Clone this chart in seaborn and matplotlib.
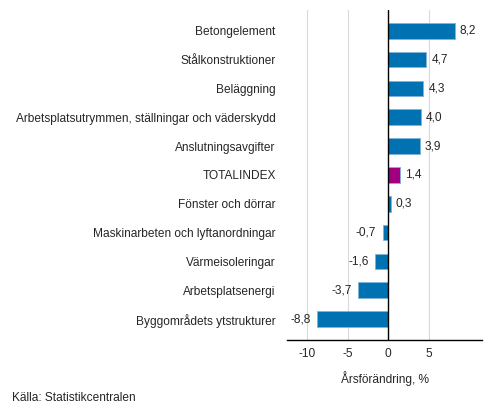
import numpy as np
import pandas as pd
import matplotlib
matplotlib.use("Agg")
import matplotlib.pyplot as plt
import seaborn as sns

categories = ["Betongelement", "Stålkonstruktioner", "Beläggning",
              "Arbetsplatsutrymmen, ställningar och väderskydd", "Anslutningsavgifter",
              "TOTALINDEX", "Fönster och dörrar", "Maskinarbeten och lyftanordningar",
              "Värmeisoleringar", "Arbetsplatsenergi", "Byggområdets ytstrukturer"]
values = [8.2, 4.7, 4.3, 4.0, 3.9, 1.4, 0.3, -0.7, -1.6, -3.7, -8.8]
x_ticks = [-10, -5, 0, 5]

df = pd.DataFrame({"kategori": categories, "varde": values})
blue = "#0072b2"
magenta = "#a0007f"
palette = {c: (magenta if c == "TOTALINDEX" else blue) for c in categories}

sns.set_style("white")
plt.rcParams["font.family"] = ["Liberation Sans", "DejaVu Sans"]
fs = 8.6

fig = plt.figure(figsize=(4.93, 4.16), dpi=100)
ax = fig.add_axes([0.582, 0.183, 0.396, 0.793])

sns.barplot(data=df, x="varde", y="kategori", hue="kategori", palette=palette,
            order=categories, width=0.54, legend=False, ax=ax, saturation=1,
            edgecolor="#7fb3d8", linewidth=0.6)

ax.set_xlim(-12.5, 11.6)
ax.set_ylim(10.72, -0.72)
ax.set_xticks(x_ticks)
ax.set_xticklabels([str(t) for t in x_ticks], fontsize=fs)
ax.tick_params(axis="y", length=0, pad=8, labelsize=fs)
ax.tick_params(axis="x", length=0, pad=6)
for t in x_ticks:
    if t != 0:
        ax.axvline(t, color="#d9d9d9", linewidth=0.8, zorder=0)
ax.axvline(0, color="black", linewidth=1.0, zorder=3)

for s in ["top", "right", "left"]:
    ax.spines[s].set_visible(False)
ax.spines["bottom"].set_color("black")
ax.spines["bottom"].set_linewidth(1.0)

for i, v in enumerate(values):
    lab = f"{v:.1f}".replace(".", ",")
    if v >= 0:
        ax.text(v + 0.65, i, lab, va="center", ha="left", fontsize=fs)
    else:
        ax.text(v - 0.8, i, lab, va="center", ha="right", fontsize=fs)

ax.set_ylabel("")
ax.set_xlabel("Årsförändring, %", fontsize=fs, labelpad=8)
fig.text(0.024, 0.043, "Källa: Statistikcentralen", fontsize=fs, ha="left", va="center")

fig.savefig("out.png", dpi=100)
